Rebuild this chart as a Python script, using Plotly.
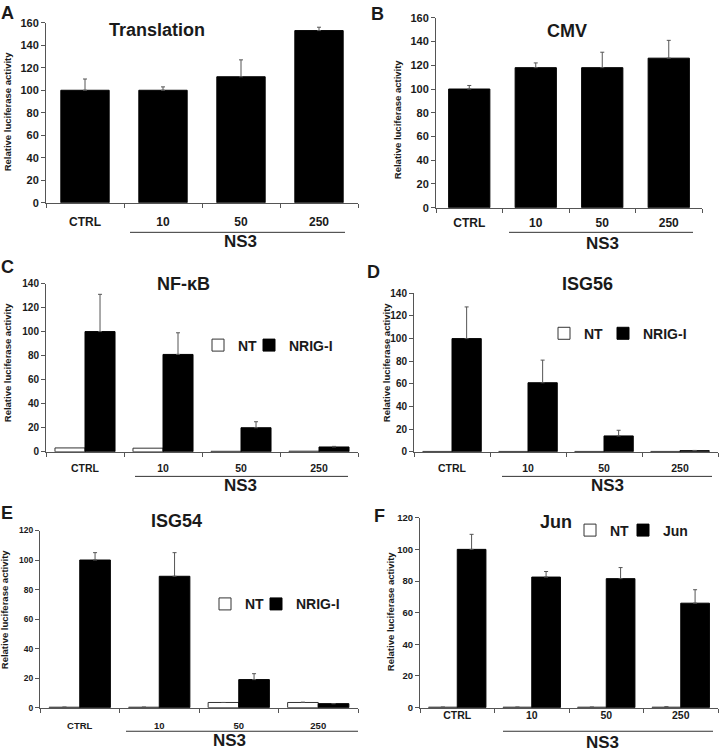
import plotly.graph_objects as go

W, H = 720, 753
FONT = "Liberation Sans, Arial, sans-serif"
TXT = "#1a1a1a"
AX = "#555555"

categories = ["CTRL", "10", "50", "250"]

# Panel A - Translation
A_vals = [100, 100, 112, 153]
A_err = [10, 3, 15, 3]
# Panel B - CMV
B_vals = [100, 118, 118, 126]
B_err = [3, 4, 13, 15]
# Panel C - NF-kB
C_nt = [3.2, 3.0, 0.4, 0.5]
C_nrig = [100, 81, 20, 4]
C_nrig_err = [31, 18, 5, 0.5]
# Panel D - ISG56
D_nt = [0.3, 0.3, 0.3, 0.3]
D_nrig = [100, 61, 14, 1]
D_nrig_err = [28, 20, 5, 0.2]
# Panel E - ISG54
E_nt = [0.3, 0.3, 3.5, 3.5]
E_nt_err = [None, None, None, 0.2]
E_nrig = [100, 89, 19, 2.7]
E_nrig_err = [5, 16, 4, None]
# Panel F - Jun
F_nt = [0.3, 0.3, 0.3, 0.3]
F_nt_err = [None, None, None, 0.3]
F_jun = [100, 82.5, 81.5, 66]
F_jun_err = [9.5, 3.5, 7, 8.5]


def px(x):
    return x / W


def py(y):
    return 1 - y / H


fig = go.Figure()

# panel geometry in pixels
panels = {
    1: dict(x0=46, x1=358, yt=17, y0=200, ymax=160, so=8, yf=11, xf=12),
    2: dict(x0=436, x1=702, yt=12, y0=205, ymax=160, so=4, yf=11, xf=12),
    3: dict(x0=46, x1=358, yt=282, y0=453, ymax=140, so=7, yf=10, xf=10.5),
    4: dict(x0=414, x1=718, yt=292, y0=453, ymax=140, so=7, yf=10, xf=10.5),
    5: dict(x0=40, x1=358, yt=533, y0=713, ymax=120, so=9, yf=8.5, xf=9.5),
    6: dict(x0=420, x1=718, yt=520, y0=713, ymax=120, so=-2, yf=9.5, xf=10.5),
}

err_style = dict(type="data", symmetric=False, color="#555555", thickness=1, width=2)


def errs(arr):
    return dict(err_style, array=arr, arrayminus=[0] * len(arr))


def single(i, vals, err):
    fig.add_trace(go.Bar(
        x=categories, y=vals, width=0.62,
        marker=dict(color="black", line=dict(color="black", width=1)),
        error_y=errs(err), showlegend=False,
        xaxis=f"x{i}", yaxis=f"y{i}"))


def pair(i, nt, nt_err, second, second_err, name2, leg1, leg2):
    w = 0.385
    kw = dict(xaxis=f"x{i}", yaxis=f"y{i}", width=w)
    fig.add_trace(go.Bar(
        x=categories, y=nt, name="NT", offset=-w, legend=leg1,
        marker=dict(color="white", line=dict(color="#333333", width=1)),
        error_y=errs(nt_err) if nt_err else None, **kw))
    fig.add_trace(go.Bar(
        x=categories, y=second, name=name2, offset=0, legend=leg2,
        marker=dict(color="black", line=dict(color="black", width=1)),
        error_y=errs(second_err), **kw))


single(1, A_vals, A_err)
single(2, B_vals, B_err)
pair(3, C_nt, None, C_nrig, C_nrig_err, "NRIG-I", "legend", "legend2")
pair(4, D_nt, None, D_nrig, D_nrig_err, "NRIG-I", "legend3", "legend4")
pair(5, E_nt, E_nt_err, E_nrig, E_nrig_err, "NRIG-I", "legend5", "legend6")
pair(6, F_nt, F_nt_err, F_jun, F_jun_err, "Jun", "legend7", "legend8")

layout = dict(
    width=W, height=H, margin=dict(l=0, r=0, t=0, b=0),
    paper_bgcolor="white", plot_bgcolor="white",
    barmode="overlay", font=dict(family=FONT, color=TXT),
)

for i, p in panels.items():
    sfx = "" if i == 1 else str(i)
    layout[f"xaxis{sfx}"] = dict(
        domain=[px(p["x0"]), px(p["x1"])], anchor=f"y{i}",
        type="category", categoryorder="array", categoryarray=categories,
        range=[-0.5, 3.5], showline=True, linecolor=AX, linewidth=1,
        ticks="outside", ticklen=4, tickcolor=AX, tickson="boundaries",
        tickfont=dict(family=FONT, size=p["xf"], color=TXT, weight="bold"),
        ticklabelstandoff=p["so"], showgrid=False, zeroline=False, fixedrange=True)
    layout[f"yaxis{sfx}"] = dict(
        domain=[py(p["y0"]), py(p["yt"])], anchor=f"x{i}",
        range=[0, p["ymax"]], dtick=20, showline=True, linecolor=AX, linewidth=1,
        ticks="outside", ticklen=4, tickcolor=AX,
        tickfont=dict(family=FONT, size=p["yf"], color=TXT, weight="bold"),
        showgrid=False, zeroline=False, fixedrange=True)

leg_common = dict(orientation="h", xanchor="left", yanchor="middle",
                  bgcolor="rgba(0,0,0,0)", itemwidth=30, itemclick=False,
                  font=dict(family=FONT, size=14, color=TXT, weight="bold"))
leg_pos = {"legend": (198, 345), "legend2": (249, 345),
           "legend3": (544, 333), "legend4": (603, 333),
           "legend5": (205, 608), "legend6": (256, 608),
           "legend7": (570, 533), "legend8": (623, 533)}
for name, (lx, ly) in leg_pos.items():
    layout[name] = dict(leg_common, x=px(lx), y=py(ly))

annotations = []
shapes = []


def ann(text, x, y, size, bold=True, angle=0):
    annotations.append(dict(
        text=text, x=px(x), y=py(y), xref="paper", yref="paper",
        showarrow=False, xanchor="center", yanchor="middle", textangle=angle,
        font=dict(family=FONT, size=size, color=TXT, weight="bold" if bold else "normal")))


titles = [("Translation", 157, 24), ("CMV", 567, 25), ("NF-κB", 183, 283),
          ("ISG56", 587, 282), ("ISG54", 176, 523), ("Jun", 556, 524)]
for t, x, y in titles:
    ann(t, x, y, 18)

letters = [("A", 7, 7), ("B", 377, 8), ("C", 7, 265), ("D", 373, 270),
           ("E", 7, 515), ("F", 379, 518)]
for t, x, y in letters:
    ann(t, x, y, 18)

ylabels = [(7, 107), (397, 115), (7, 362), (386, 362), (4, 613), (390, 615)]
for x, y in ylabels:
    ann("Relative luciferase activity", x, y, 9.5, angle=-90)

ns3 = [  # line x0, x1, line y, text x, text y
    (130, 345, 230, 240, 239),
    (509, 693, 230, 602, 241),
    (135, 348, 478, 240, 487),
    (502, 712, 478, 607, 487),
    (126, 358, 737, 229, 746),
    (503, 713, 737, 602, 748),
]
for x0, x1, ly, tx, ty in ns3:
    shapes.append(dict(type="line", xref="paper", yref="paper",
                       x0=px(x0), x1=px(x1), y0=py(ly), y1=py(ly),
                       line=dict(color="#333333", width=1)))
    ann("NS3", tx, ty, 17)

layout["annotations"] = annotations
layout["shapes"] = shapes
fig.update_layout(**layout)

fig.write_html("out.html", config={"displayModeBar": False},
               post_script="document.body.style.margin='0';"
                           "document.body.style.overflow='hidden';")
